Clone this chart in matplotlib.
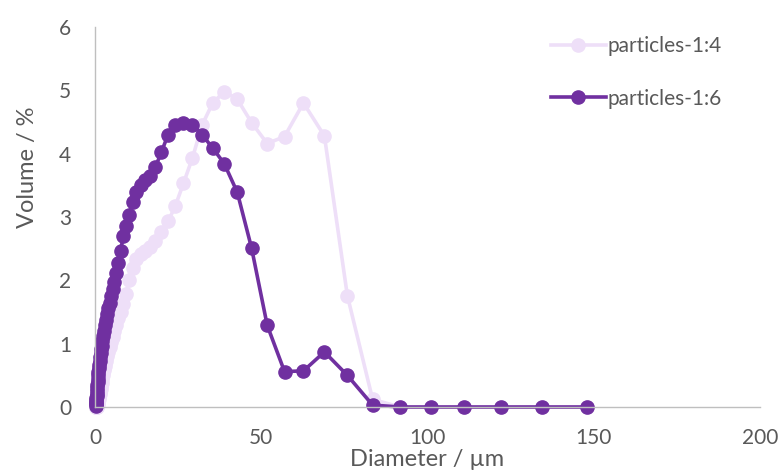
#!/usr/bin/env python3
"""Particle size distribution (volume %) for two particle batches."""

import matplotlib
matplotlib.use("Agg")
import matplotlib.pyplot as plt

# Diameter bins (um)
DIAMETER = [
    0.28, 0.30, 0.33, 0.37, 0.40, 0.44, 0.49, 0.54, 0.59, 0.65,
    0.71, 0.78, 0.86, 0.95, 1.04, 1.15, 1.26, 1.39, 1.53, 1.68,
    1.85, 2.0, 2.2, 2.5, 2.7, 3.0, 3.3, 3.6, 4.0, 4.4,
    4.8, 5.3, 5.8, 6.4, 7.0, 7.7, 8.5, 9.3, 10.3, 11.3,
    12.4, 13.7, 15.0, 16.5, 18.2, 20.0, 22.0, 24.2, 26.6, 29.3,
    32.2, 35.4, 38.9, 42.8, 47.1, 51.8, 57.0, 62.7, 69.0, 75.9,
    83.5, 91.8, 101.0, 111.1, 122.2, 134.5, 147.9,
]

VOL_1_4 = [
    0.0, 0.0, 0.0, 0.0, 0.0, 0.0, 0.0, 0.0, 0.01, 0.02,
    0.03, 0.04, 0.06, 0.08, 0.10, 0.13, 0.16, 0.20, 0.24, 0.28,
    0.33, 0.38, 0.44, 0.50, 0.58, 0.65, 0.72, 0.80, 0.87, 0.95,
    1.02, 1.10, 1.20, 1.30, 1.40, 1.50, 1.62, 1.78, 2.00, 2.20,
    2.33, 2.42, 2.47, 2.52, 2.62, 2.76, 2.93, 3.18, 3.53, 3.93,
    4.45, 4.80, 4.98, 4.86, 4.49, 4.16, 4.27, 4.80, 4.28, 1.76,
    0.12, 0.0, 0.0, 0.0, 0.0, 0.0, 0.0,
]

VOL_1_6 = [
    0.02, 0.04, 0.06, 0.08, 0.11, 0.14, 0.17, 0.21, 0.25, 0.30,
    0.35, 0.40, 0.45, 0.50, 0.55, 0.61, 0.67, 0.73, 0.79, 0.85,
    0.91, 0.97, 1.04, 1.12, 1.20, 1.29, 1.38, 1.47, 1.56, 1.65,
    1.75, 1.86, 1.98, 2.12, 2.28, 2.46, 2.70, 2.86, 3.03, 3.24,
    3.40, 3.51, 3.58, 3.64, 3.79, 4.03, 4.30, 4.46, 4.49, 4.46,
    4.30, 4.09, 3.84, 3.39, 2.51, 1.29, 0.56, 0.57, 0.87, 0.50,
    0.03, 0.0, 0.0, 0.0, 0.0, 0.0, 0.0,
]

LABELS = ["particles-1:4", "particles-1:6"]
COLORS = ["#EEDFF8", "#7030A0"]
X_TICKS = [0, 50, 100, 150, 200]
Y_TICKS = [0, 1, 2, 3, 4, 5, 6]

TEXT_COLOR = "#595959"
AXIS_COLOR = "#BFBFBF"


def main():
    plt.rcParams.update({
        "font.family": ["Lato", "DejaVu Sans"],
        "font.size": 15,
    })

    fig = plt.figure(figsize=(7.81, 4.72), dpi=100)
    ax = fig.add_axes([0.1216, 0.1377, 0.8515, 0.8051])

    for y, label, color in zip([VOL_1_4, VOL_1_6], LABELS, COLORS):
        ax.plot(DIAMETER, y, color=color, lw=2.6, marker="o", ms=9.5,
                mec=color, mfc=color, label=label, clip_on=False)

    ax.set_xlim(0, 200)
    ax.set_ylim(0, 6)
    ax.set_xticks(X_TICKS)
    ax.set_yticks(Y_TICKS)
    ax.tick_params(length=0, colors=TEXT_COLOR, labelsize=15)
    ax.tick_params(axis="y", pad=17)
    ax.tick_params(axis="x", pad=15)

    for side in ["top", "right"]:
        ax.spines[side].set_visible(False)
    for side in ["left", "bottom"]:
        ax.spines[side].set_color(AXIS_COLOR)
        ax.spines[side].set_linewidth(1.0)

    ax.set_xlabel("Diameter / µm", color=TEXT_COLOR, fontsize=17, labelpad=1)
    ax.set_ylabel("Volume / %", color=TEXT_COLOR, fontsize=17)
    ax.yaxis.set_label_coords(-0.085, 0.63)

    ax.legend(loc="upper left", bbox_to_anchor=(0.682, 0.963),
              bbox_transform=fig.transFigure, frameon=False,
              handlelength=2.6, handletextpad=0.1, labelspacing=1.55,
              labelcolor=TEXT_COLOR, fontsize=15)

    fig.savefig("out.png", dpi=100)
    plt.close(fig)


if __name__ == "__main__":
    main()
